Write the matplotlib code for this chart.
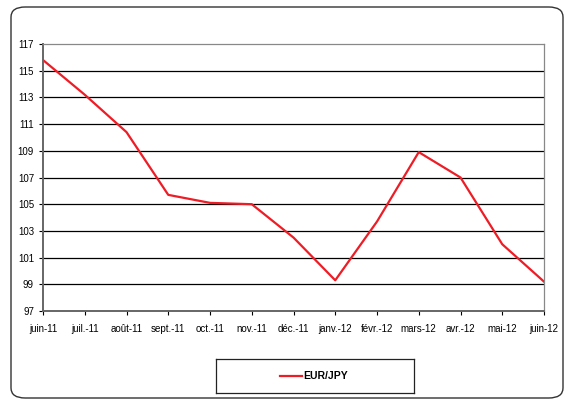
import numpy as np
import matplotlib.pyplot as plt
from matplotlib.patches import FancyBboxPatch
from matplotlib.lines import Line2D

mois = ['juin-11', 'juil.-11', 'août-11', 'sept.-11', 'oct.-11', 'nov.-11', 'déc.-11',
        'janv.-12', 'févr.-12', 'mars-12', 'avr.-12', 'mai-12', 'juin-12']
eur_jpy = [115.8, 113.2, 110.4, 105.7, 105.1, 105.0, 102.5,
           99.3, 103.7, 108.9, 107.0, 102.0, 99.2]
y_ticks = np.arange(97, 118, 2)

plt.rcParams['font.family'] = ['Liberation Sans', 'DejaVu Sans']

fig = plt.figure(figsize=(5.68, 4.03), dpi=100)

# cadre arrondi autour du graphique
cadre = FancyBboxPatch((11 / 568, 5 / 403), 552 / 568, 391 / 403,
                       boxstyle='round,pad=0,rounding_size=0.025',
                       transform=fig.transFigure, facecolor='white',
                       edgecolor='#333333', linewidth=1.0, zorder=-5)
fig.patches.append(cadre)

ax = fig.add_axes([43 / 568, 1 - 311 / 403, 501 / 568, 267 / 403])
ax.patch.set_alpha(0)
x = np.arange(len(mois))
ax.plot(x, eur_jpy, color='#ee1c25', linewidth=1.6, label='EUR/JPY')

ax.set_xlim(0, len(mois) - 1)
ax.set_ylim(97, 117)
ax.set_yticks(y_ticks)
ax.set_xticks(x)
ax.set_xticklabels(mois)
for v in y_ticks[1:-1]:
    ax.axhline(v, color='black', linewidth=0.9, zorder=0)

for s in ['top', 'right']:
    ax.spines[s].set_color('#888888')
    ax.spines[s].set_linewidth(0.9)
for s in ['left', 'bottom']:
    ax.spines[s].set_color('#666666')
    ax.spines[s].set_linewidth(1.4)
ax.tick_params(axis='both', labelsize=7, colors='black', length=3, width=0.8,
               direction='out')
ax.tick_params(axis='x', pad=6)

# légende
lax = fig.add_axes([216 / 568, 1 - 393 / 403, 198 / 568, 34 / 403])
lax.set_xticks([])
lax.set_yticks([])
for s in lax.spines.values():
    s.set_linewidth(0.9)
    s.set_color('#222222')
lax.set_xlim(0, 198)
lax.set_ylim(0, 34)
lax.add_line(Line2D([64, 86], [17, 17], color='#ee1c25', linewidth=1.6))
lax.text(87, 17, 'EUR/JPY', fontsize=7.5, fontweight='bold', va='center', ha='left')

fig.savefig('out.png', dpi=100)
